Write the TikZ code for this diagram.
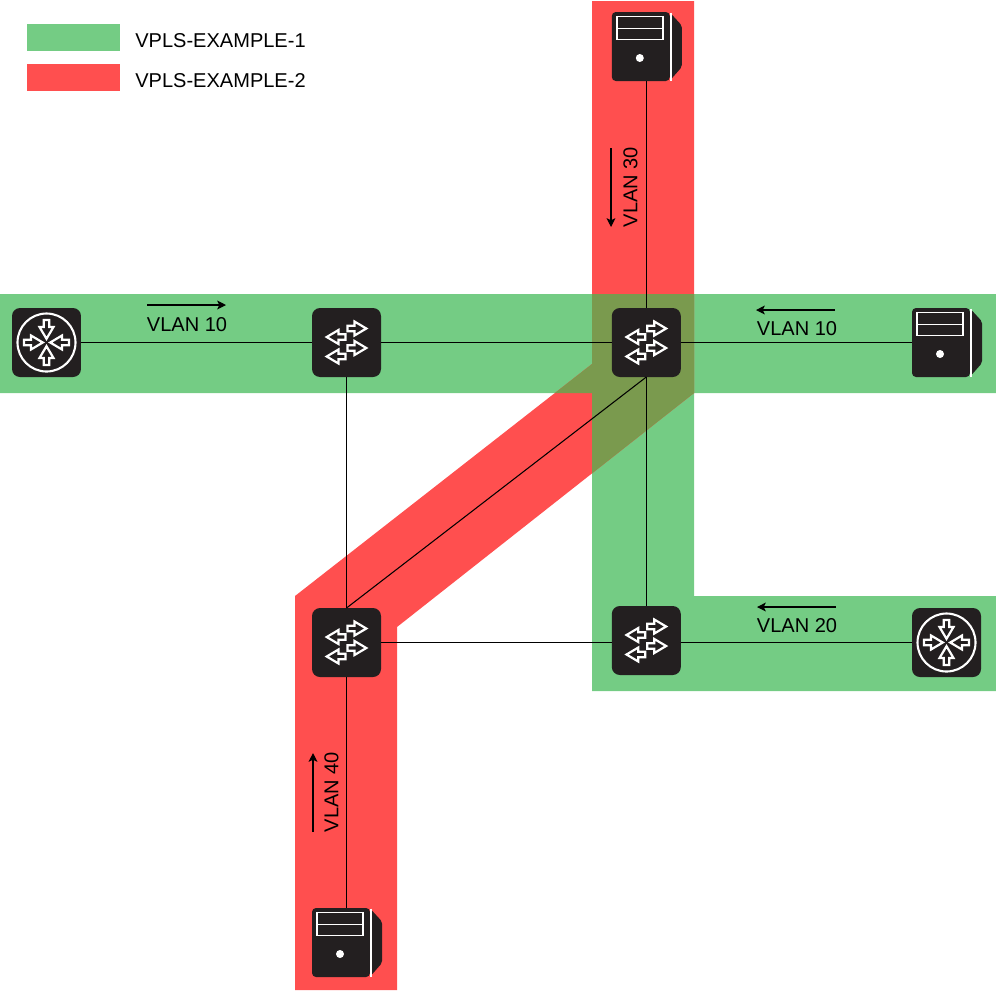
\documentclass[tikz,border=0pt]{standalone}
\usepackage{fontspec}
\setmainfont{Liberation Sans}
\usetikzlibrary{arrows.meta}
\definecolor{vplsgreen}{HTML}{74CC84}
\definecolor{vplsred}{HTML}{FF4F4F}
\definecolor{vplsboth}{HTML}{7A9A4E}
\definecolor{devicedark}{HTML}{231F20}
\def\greenband{(0,294) -- (996,294) -- (996,393) -- (694,393) -- (694,596) -- (996,596) -- (996,691) -- (592,691) -- (592,393) -- (0,393) -- cycle}
\def\redband{(592,1) -- (694,1) -- (694,393) -- (397,627) -- (397,990) -- (295,990) -- (295,596) -- (592,364) -- cycle}
\def\iconarrow{(1,-2.7) -- (8,-2.7) -- (8,-7) -- (19.8,0) -- (8,7) -- (8,2.7) -- (1,2.7) -- cycle}
\tikzset{
	device/.style={minimum size=1.38cm, inner sep=0pt, outer sep=0pt},
	darkbox/.style={device, fill=devicedark, rounded corners=0.16cm},
	iconline/.style={draw=white, line width=1.25pt, fill=devicedark},
	link/.style={line width=0.6pt, color=black},
	vlanflow/.style={line width=0.6pt, color=black, -{Stealth[length=5pt,width=5pt,inset=1.2pt]}},
	vlantext/.style={font=\fontsize{11.4}{13}\selectfont, inner sep=0pt},
	pics/switchicon/.style={code={
		\foreach \dy/\r in {-14/0, 5.5/0, -5.5/180, 14/180}
			\draw[iconline, shift={(0,\dy)}, rotate=\r] \iconarrow;
	}},
	pics/routericon/.style={code={
		\draw[draw=white, line width=1.2pt] (0,0) circle (29);
		\foreach \a in {0,90,180,270}
			\draw[iconline, shift={(\a:23.5)}, rotate=180-\a] \iconarrow;
	}},
	pics/servericon/.style={code={
		\fill[devicedark, rounded corners=0.08cm] (-34.5,-34.5) rectangle (23.5,34.5);
		\fill[devicedark, rounded corners=0.04cm] (24.5,-33) -- (35.5,-21) -- (35.5,20.5) -- (24.5,33) -- cycle;
		\draw[draw=white, line width=1.1pt] (24.5,-34) -- (24.5,34);
		\draw[draw=white, line width=1.1pt] (-29.5,-30) rectangle (16.5,-7);
		\draw[draw=white, line width=1.1pt] (-29.5,-18) -- (16.5,-18);
		\fill[white] (-6.5,11.5) circle (4);
	}}
}

\begin{document}
\begin{tikzpicture}[x=0.02cm, y=-0.02cm]
	\useasboundingbox (0,0) rectangle (996,991);
	
	%%%%% bands %%%%%
	\fill[vplsgreen] \greenband;
	\fill[vplsred] \redband;
	\begin{scope}
		\clip \greenband;
		\fill[vplsboth] \redband;
	\end{scope}
	
	%%%%% legend %%%%%
	\fill[vplsgreen] (27,24) rectangle (120,51);
	\fill[vplsred] (27,64) rectangle (120,91);
	\node[vlantext, anchor=west] (legendone) at (135,40.5) {VPLS-EXAMPLE-1};
	\node[vlantext, anchor=west] (legendtwo) at (135,80.5) {VPLS-EXAMPLE-2};
	
	%%%%% devices %%%%%
	\node[darkbox] (routerA) at (46.5,342.5) {};
	\node[darkbox] (switchA) at (346.5,342.5) {};
	\node[darkbox] (switchB) at (646.3,342.5) {};
	\node[darkbox] (switchC) at (346.5,642.5) {};
	\node[darkbox] (switchD) at (646.3,640.5) {};
	\node[darkbox] (routerB) at (946.5,642.5) {};
	\node[device] (serverA) at (646.3,46.5) {};
	\node[device] (serverB) at (946.5,342.5) {};
	\node[device] (serverC) at (346.5,942.5) {};
	
	%%%%% links %%%%%
	\draw[link] (routerA) -- (switchA);
	\draw[link] (switchA) -- (switchB);
	\draw[link] (switchB) -- (serverB);
	\draw[link] (serverA) -- (switchB);
	\draw[link] (switchB) -- (switchD);
	\draw[link] (switchA) -- (switchC);
	\draw[link] (switchB.south) -- (switchC.north);
	\draw[link] (switchC) -- (switchC -| switchD.west);
	\draw[link] (routerB -| switchD.east) -- (routerB);
	\draw[link] (switchC) -- (serverC);
	
	\pic at (routerA) {routericon};
	\pic at (routerB) {routericon};
	\pic at (switchA) {switchicon};
	\pic at (switchB) {switchicon};
	\pic at (switchC) {switchicon};
	\pic at (switchD) {switchicon};
	\pic at (serverA) {servericon};
	\pic at (serverB) {servericon};
	\pic at (serverC) {servericon};
	
	%%%%% vlan labels %%%%%
	\coordinate (flowAs) at (147,305);
	\coordinate (flowAe) at (226,305);
	\draw[vlanflow] (flowAs) -- (flowAe);
	\node[vlantext] (vlanA) at (187,324.5) {VLAN 10};
	
	\coordinate (flowBs) at (835,310);
	\coordinate (flowBe) at (756,310);
	\draw[vlanflow] (flowBs) -- (flowBe);
	\node[vlantext] (vlanB) at (797,328.5) {VLAN 10};
	
	\coordinate (flowCs) at (836,607);
	\coordinate (flowCe) at (757,607);
	\draw[vlanflow] (flowCs) -- (flowCe);
	\node[vlantext] (vlanC) at (797,625.5) {VLAN 20};
	
	\coordinate (flowDs) at (611,148);
	\coordinate (flowDe) at (611,227);
	\draw[vlanflow] (flowDs) -- (flowDe);
	\node[vlantext, rotate=90] (vlanD) at (630.5,187) {VLAN 30};
	
	\coordinate (flowEs) at (313,832);
	\coordinate (flowEe) at (313,753);
	\draw[vlanflow] (flowEs) -- (flowEe);
	\node[vlantext, rotate=90] (vlanE) at (331.5,792) {VLAN 40};
\end{tikzpicture}
\end{document}
